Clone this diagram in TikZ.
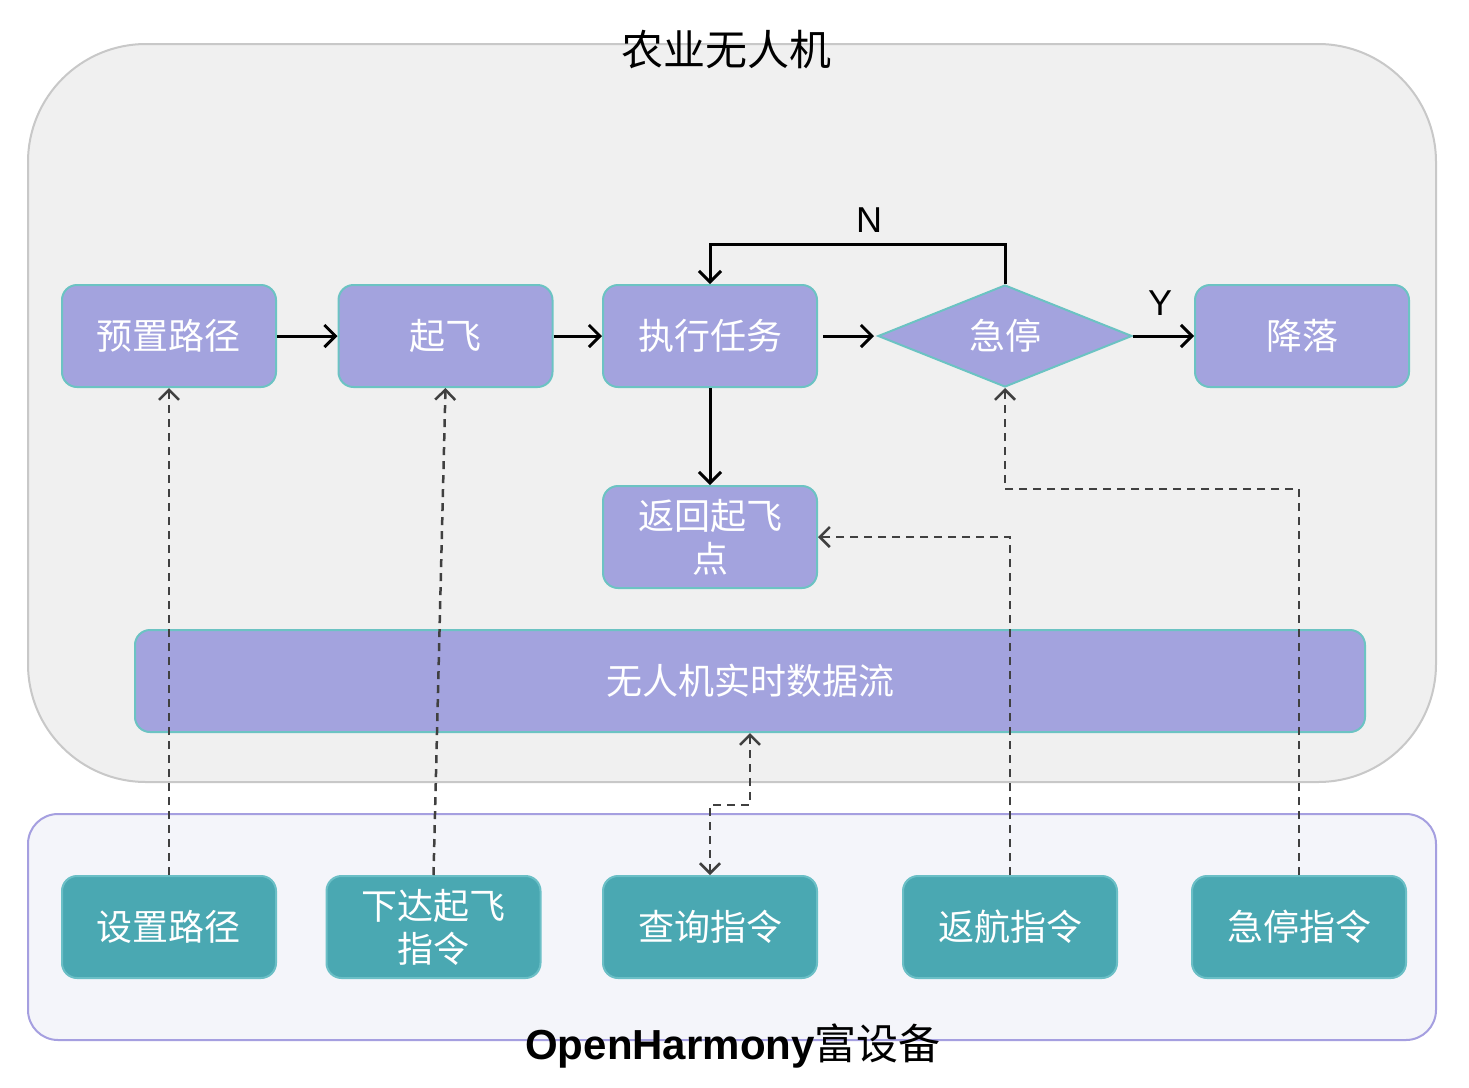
\documentclass[tikz,border=0pt]{standalone}
\usepackage{fontspec}
\setmainfont{Liberation Sans}
\newfontfamily\cjk{Noto Sans CJK SC}
\usetikzlibrary{shapes.geometric,arrows.meta}
\definecolor{boxfill}{HTML}{A3A3DE}
\definecolor{boxline}{HTML}{6CC3C3}
\definecolor{cmdfill}{HTML}{4AA8B2}
\definecolor{cmdline}{HTML}{6BBFC6}
\definecolor{outerfill}{HTML}{F0F0F0}
\definecolor{outerline}{HTML}{C8C8C8}
\definecolor{devfill}{HTML}{F4F5FA}
\definecolor{devline}{HTML}{A59FE0}
\definecolor{dashc}{HTML}{404040}
\begin{document}
\begin{tikzpicture}[x=0.5pt,y=-0.5pt,
  boxtext/.style={text=white, font=\cjk\fontsize{18}{21.5}\selectfont, align=center},
  proc/.style={draw=boxline, fill=boxfill, line width=1pt, rounded corners=7.5pt,
    minimum width=107pt, minimum height=51pt, inner sep=0pt, boxtext},
  cmd/.style={proc, draw=cmdline, fill=cmdfill},
  dec/.style={diamond, draw=boxline, fill=boxfill, line width=1pt, aspect=2.5,
    minimum width=127pt, minimum height=51pt, inner sep=0pt, boxtext},
  flow/.style={draw=black, line width=1.5pt, -{Straight Barb[length=5.5pt,width=11pt]}},
  ctl/.style={draw=dashc, line width=1.25pt, dash pattern=on 4pt off 3pt,
    -{Straight Barb[length=5pt,width=10pt]}},
  ctlboth/.style={ctl, {Straight Barb[length=5pt,width=10pt]}-{Straight Barb[length=5pt,width=10pt]}},
  lbl/.style={font=\fontsize{18}{21}\selectfont, inner sep=0pt},
]
\useasboundingbox (0,0) rectangle (1469,1088);
\fill[white] (0,0) rectangle (1469,1088);

% containers
\draw[outerline, fill=outerfill, line width=1pt, rounded corners=59pt] (28,44) rectangle (1436,782);
\draw[devline, fill=devfill, line width=1pt, rounded corners=15pt] (28,814) rectangle (1436,1040);
\node[font=\cjk\fontsize{21}{25}\selectfont, inner sep=0pt] (title) at (726,50) {农业无人机};
\node[font=\fontsize{21}{25}\selectfont, inner sep=0pt] (devlabel) at (733,1046) {\textbf{OpenHarmony}{\cjk 富设备}};

% drone flow
\node[proc] (preset) at (169,336) {预置路径};
\node[proc] (takeoff) at (445.5,336) {起飞};
\node[proc] (exec) at (710,336) {执行任务};
\node[dec] (estop) at (1005,336) {急停};
\node[proc] (land) at (1302,336) {降落};
\node[proc] (rth) at (710,537) {返回起飞\\点};
\node[proc, minimum width=615pt] (stream) at (750,681) {无人机实时数据流};

% device commands
\node[cmd] (setpath) at (169,927) {设置路径};
\node[cmd] (cmdtake) at (433.5,927) {下达起飞\\指令};
\node[cmd] (query) at (710,927) {查询指令};
\node[cmd] (ret) at (1010,927) {返航指令};
\node[cmd] (stopcmd) at (1299,927) {急停指令};

% solid flow
\draw[flow] (preset) -- (takeoff);
\draw[flow] (takeoff) -- (exec);
\draw[flow] ([xshift=2.5pt]exec.east) -- ([xshift=-1.5pt]estop.west);
\draw[flow] (estop.east) -- (land.west);
\draw[flow] (estop.north) -- ++(0,-40) -| (exec.north);
\draw[flow] (exec) -- (rth);
\node[lbl] (nlabel) at (869,220) {N};
\node[lbl] (ylabel) at (1160,303) {Y};

% dashed control
\draw[ctl] (setpath.north) -- (preset.south);
\draw[ctl] (cmdtake.north) -- (takeoff.south);
\draw[ctlboth] (stream.south) -- ++(0,72) -| (query.north);
\draw[ctl] (ret.north) |- (rth.east);
\draw[ctl] (stopcmd.north) -- ++(0,-386) -| (estop.south);
\end{tikzpicture}
\end{document}
